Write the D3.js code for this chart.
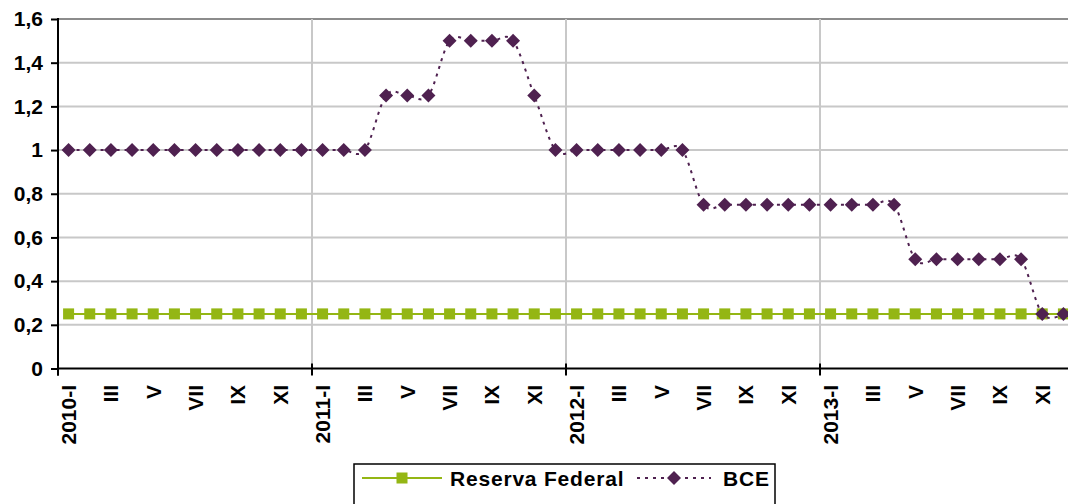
<!DOCTYPE html>
<html><head><meta charset="utf-8">
<script src="https://cdn.jsdelivr.net/npm/d3@7"></script>
<style>
html,body{margin:0;padding:0;background:#fff;overflow:hidden}
text{font-family:"Liberation Sans",Arial,sans-serif;font-weight:bold;fill:#000}
</style></head>
<body><svg id="c" width="1068" height="504"></svg>
<script>
const years = ["2010","2011","2012","2013"];
const months = ["I","II","III","IV","V","VI","VII","VIII","IX","X","XI","XII"];
const categories = years.flatMap(y => months.map(m => y + "-" + m));
const seriesNames = ["Reserva Federal","BCE"];
const fedValues = [
  0.25,0.25,0.25,0.25,0.25,0.25,0.25,0.25,0.25,0.25,0.25,0.25,
  0.25,0.25,0.25,0.25,0.25,0.25,0.25,0.25,0.25,0.25,0.25,0.25,
  0.25,0.25,0.25,0.25,0.25,0.25,0.25,0.25,0.25,0.25,0.25,0.25,
  0.25,0.25,0.25,0.25,0.25,0.25,0.25,0.25,0.25,0.25,0.25,0.25];
const bceValues = [
  1,1,1,1,1,1,1,1,1,1,1,1,
  1,1,1,1.25,1.25,1.25,1.5,1.5,1.5,1.5,1.25,1,
  1,1,1,1,1,1,0.75,0.75,0.75,0.75,0.75,0.75,
  0.75,0.75,0.75,0.75,0.5,0.5,0.5,0.5,0.5,0.5,0.25,0.25];
const yTicks = [0,0.2,0.4,0.6,0.8,1,1.2,1.4,1.6];

const svg = d3.select("#c");
const L = 58, R = 1074, T = 19, B = 368.5;
const x = d3.scaleBand().domain(categories).range([L, R]).paddingInner(0).paddingOuter(0);
const y = d3.scaleLinear().domain([0, 1.6]).range([B, T]);
const cx = c => x(c) + x.bandwidth() / 2;
const fmt = v => String(+v.toFixed(1)).replace(".", ",");

const green = "#94B614", purple = "#4F2150";

// horizontal gridlines
svg.append("g").selectAll("line").data(yTicks.filter(v => v > 0)).join("line")
  .attr("x1", L).attr("x2", R).attr("y1", d => y(d)).attr("y2", d => y(d))
  .attr("stroke", d => d === 1.6 ? "#8c8c8c" : "#c8c8c8").attr("stroke-width", 2);
// vertical gridlines at year boundaries
const yearStarts = categories.filter((c, i) => i % 12 === 0);
svg.append("g").selectAll("line").data(yearStarts.slice(1)).join("line")
  .attr("x1", d => x(d)).attr("x2", d => x(d)).attr("y1", T).attr("y2", B)
  .attr("stroke", "#c8c8c8").attr("stroke-width", 2);

// y axis
const ya = svg.append("g").attr("transform", `translate(${L},0)`)
  .call(d3.axisLeft(y).tickValues(yTicks).tickFormat(fmt).tickSize(7).tickPadding(8));
ya.select(".domain").remove();
ya.selectAll(".tick line").attr("stroke", "#000").attr("stroke-width", 2);
ya.selectAll(".tick text").attr("font-size", 21).attr("font-family", "Liberation Sans, Arial, sans-serif").attr("font-weight", "bold").attr("fill", "#000");
svg.append("line").attr("x1", L).attr("x2", L).attr("y1", T - 1).attr("y2", B + 7).attr("stroke", "#000").attr("stroke-width", 2);

// x axis
svg.append("line").attr("x1", L).attr("x2", R).attr("y1", B).attr("y2", B).attr("stroke", "#000").attr("stroke-width", 2);
svg.append("g").selectAll("line").data(yearStarts).join("line")
  .attr("x1", d => x(d)).attr("x2", d => x(d)).attr("y1", B - 5).attr("y2", B + 7)
  .attr("stroke", "#000").attr("stroke-width", 2);
svg.append("g").selectAll("text").data(categories.filter((c, i) => i % 2 === 0)).join("text")
  .attr("transform", d => `translate(${cx(d)},385) rotate(-90)`)
  .attr("text-anchor", "end").attr("dy", "0.36em").attr("font-size", 21)
  .text(d => d.endsWith("-I") ? d : d.split("-")[1]);

// Fed series
const fedData = categories.map((c, i) => ({c, v: fedValues[i]}));
const bceData = categories.map((c, i) => ({c, v: bceValues[i]}));
svg.append("path").datum(fedData)
  .attr("d", d3.line().x(d => cx(d.c)).y(d => y(d.v)))
  .attr("fill", "none").attr("stroke", green).attr("stroke-width", 2);
svg.append("g").selectAll("rect").data(fedData).join("rect")
  .attr("x", d => cx(d.c) - 5.5).attr("y", d => y(d.v) - 5.5).attr("width", 11).attr("height", 11)
  .attr("fill", green);

// BCE series
svg.append("path").datum(bceData)
  .attr("d", d3.line().x(d => cx(d.c)).y(d => y(d.v)).curve(d3.curveCardinal.tension(0)))
  .attr("fill", "none").attr("stroke", purple).attr("stroke-width", 2).attr("stroke-dasharray", "3,5");
const diamond = "M0,-7L7,0L0,7L-7,0Z";
svg.append("g").selectAll("path").data(bceData).join("path")
  .attr("transform", d => `translate(${cx(d.c)},${y(d.v)})`).attr("d", diamond).attr("fill", purple);

// legend
const lg = svg.append("g");
lg.append("rect").attr("x", 354).attr("y", 464).attr("width", 421).attr("height", 50)
  .attr("fill", "#fff").attr("stroke", "#000").attr("stroke-width", 1.5);
lg.append("line").attr("x1", 362).attr("x2", 442).attr("y1", 478).attr("y2", 478).attr("stroke", green).attr("stroke-width", 2);
lg.append("rect").attr("x", 396.5).attr("y", 472.5).attr("width", 11).attr("height", 11).attr("fill", green);
lg.append("text").attr("x", 450).attr("y", 485.5).attr("font-size", 21).attr("letter-spacing", "0.8px").text(seriesNames[0]);
lg.append("line").attr("x1", 637).attr("x2", 711).attr("y1", 478).attr("y2", 478).attr("stroke", purple).attr("stroke-width", 2).attr("stroke-dasharray", "3,5");
lg.append("path").attr("transform", "translate(674,478)").attr("d", diamond).attr("fill", purple);
lg.append("text").attr("x", 723).attr("y", 485.5).attr("font-size", 21).attr("letter-spacing", "0.8px").text(seriesNames[1]);
</script></body></html>
